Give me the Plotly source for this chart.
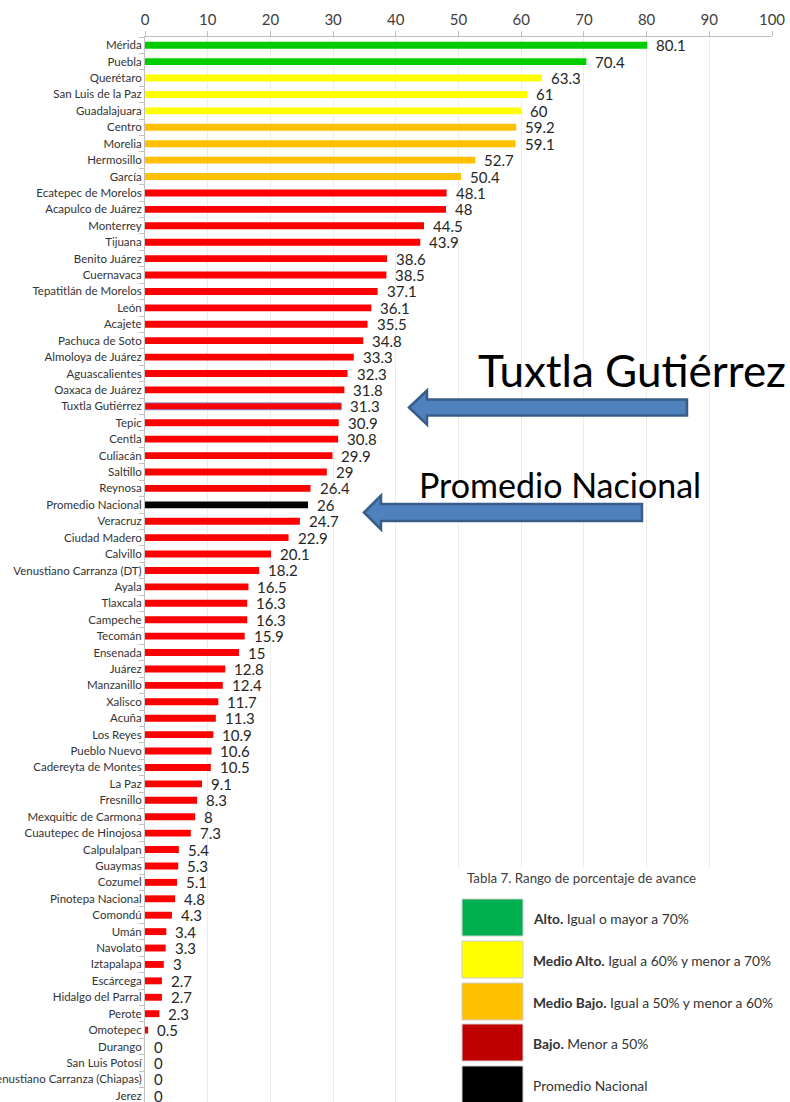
import plotly.graph_objects as go

municipios = [
    "Mérida", "Puebla", "Querétaro", "San Luis de la Paz", "Guadalajuara",
    "Centro", "Morelia", "Hermosillo", "García", "Ecatepec de Morelos",
    "Acapulco de Juárez", "Monterrey", "Tijuana", "Benito Juárez", "Cuernavaca",
    "Tepatitlán de Morelos", "León", "Acajete", "Pachuca de Soto", "Almoloya de Juárez",
    "Aguascalientes", "Oaxaca de Juárez", "Tuxtla Gutiérrez", "Tepic", "Centla",
    "Culiacán", "Saltillo", "Reynosa", "Promedio Nacional", "Veracruz",
    "Ciudad Madero", "Calvillo", "Venustiano Carranza (DT)", "Ayala", "Tlaxcala",
    "Campeche", "Tecomán", "Ensenada", "Juárez", "Manzanillo",
    "Xalisco", "Acuña", "Los Reyes", "Pueblo Nuevo", "Cadereyta de Montes",
    "La Paz", "Fresnillo", "Mexquitic de Carmona", "Cuautepec de Hinojosa", "Calpulalpan",
    "Guaymas", "Cozumel", "Pinotepa Nacional", "Comondú", "Umán",
    "Navolato", "Iztapalapa", "Escárcega", "Hidalgo del Parral", "Perote",
    "Omotepec", "Durango", "San Luis Potosí", "Venustiano Carranza (Chiapas)", "Jerez",
]
avance = [
    80.1, 70.4, 63.3, 61, 60,
    59.2, 59.1, 52.7, 50.4, 48.1,
    48, 44.5, 43.9, 38.6, 38.5,
    37.1, 36.1, 35.5, 34.8, 33.3,
    32.3, 31.8, 31.3, 30.9, 30.8,
    29.9, 29, 26.4, 26, 24.7,
    22.9, 20.1, 18.2, 16.5, 16.3,
    16.3, 15.9, 15, 12.8, 12.4,
    11.7, 11.3, 10.9, 10.6, 10.5,
    9.1, 8.3, 8, 7.3, 5.4,
    5.3, 5.1, 4.8, 4.3, 3.4,
    3.3, 3, 2.7, 2.7, 2.3,
    0.5, 0, 0, 0, 0,
]
x_ticks = [0, 10, 20, 30, 40, 50, 60, 70, 80, 90, 100]

legend_title = "Tabla 7. Rango de porcentaje de avance"
legend_labels = [
    ("Alto.", "Igual o mayor a 70%"),
    ("Medio Alto.", "Igual a 60% y menor a 70%"),
    ("Medio Bajo.", "Igual a 50% y menor a 60%"),
    ("Bajo.", "Menor a 50%"),
    ("", "Promedio Nacional"),
]
legend_colors = ["#00B050", "#FFFF00", "#FFC000", "#C00000", "#000000"]

promedio = "Promedio Nacional"
destacado = "Tuxtla Gutiérrez"


def bar_color(name, v):
    if name == promedio:
        return "#000000"
    if v >= 70:
        return "#00CC00"
    if v >= 60:
        return "#FFFF00"
    if v >= 50:
        return "#FFC000"
    return "#FF0000"


colors = [bar_color(n, v) for n, v in zip(municipios, avance)]
line_w = [1 if n == destacado else 0 for n in municipios]

W, H = 790, 1102
ML, MR, MT, MB = 145, 18, 37, 0
PW, PH = W - ML - MR, H - MT - MB


def px(xp):
    return (xp - ML) / PW


def py(yp):
    return 1 - (yp - MT) / PH


FONT = "Lato, 'Open Sans', sans-serif"

fig = go.Figure()
fig.add_trace(go.Bar(
    x=avance, y=municipios, orientation="h",
    marker=dict(color=colors, line=dict(color="#8080c0", width=line_w)),
    width=0.42, hoverinfo="x+y",
))

annotations = []
for n, v in zip(municipios, avance):
    annotations.append(dict(
        x=v, y=n, xref="x", yref="y", text=f"{v:g}", showarrow=False,
        xanchor="left", yanchor="middle", xshift=7,
        font=dict(size=15, color="#262626", family=FONT),
    ))

# big callout texts
annotations.append(dict(
    x=px(476), y=py(370), xref="paper", yref="paper", text="Tuxtla Gutiérrez",
    showarrow=False, xanchor="left", yanchor="middle",
    font=dict(size=44, color="#000000", family=FONT),
))
annotations.append(dict(
    x=px(417), y=py(484), xref="paper", yref="paper", text="Promedio Nacional",
    showarrow=False, xanchor="left", yanchor="middle",
    font=dict(size=34, color="#000000", family=FONT),
))

shapes = []


def block_arrow(tip_x, yc, head_x, end_x, head_h, shaft_h):
    pts = [
        (tip_x, yc), (head_x, yc - head_h / 2), (head_x, yc - shaft_h / 2),
        (end_x, yc - shaft_h / 2), (end_x, yc + shaft_h / 2),
        (head_x, yc + shaft_h / 2), (head_x, yc + head_h / 2),
    ]
    path = "M " + " L ".join(f"{px(a):.5f},{py(b):.5f}" for a, b in pts) + " Z"
    return dict(type="path", path=path, xref="paper", yref="paper",
                fillcolor="#4F81BD", line=dict(color="#385D8A", width=2.5),
                layer="above")


shapes.append(block_arrow(409, 407.5, 427, 687, 34, 16))
shapes.append(block_arrow(364, 512.5, 381, 642, 34, 17))

# legend table (image-like block)
shapes.append(dict(type="rect", xref="paper", yref="paper",
                   x0=px(455), x1=px(790), y0=py(1102), y1=py(868),
                   fillcolor="white", line=dict(width=0), layer="above"))
annotations.append(dict(
    x=px(465), y=py(878), xref="paper", yref="paper", text=legend_title,
    showarrow=False, xanchor="left", yanchor="middle",
    font=dict(size=13.3, color="#404040", family=FONT),
))
sw_tops = [899, 941, 983, 1024, 1066]
for i, ((b, t), c) in enumerate(zip(legend_labels, legend_colors)):
    y0 = sw_tops[i]
    shapes.append(dict(type="rect", xref="paper", yref="paper",
                       x0=px(462), x1=px(523), y0=py(y0 + 37), y1=py(y0),
                       fillcolor=c, line=dict(color="#d0d0d0", width=1),
                       layer="above"))
    txt = (f"<b>{b}</b> {t}" if b else t)
    annotations.append(dict(
        x=px(531), y=py(y0 + 19), xref="paper", yref="paper", text=txt,
        showarrow=False, xanchor="left", yanchor="middle",
        font=dict(size=13.8, color="#333333", family=FONT),
    ))

fig.update_layout(
    width=W, height=H,
    margin=dict(l=ML, r=MR, t=MT, b=MB, pad=0, autoexpand=False),
    paper_bgcolor="white", plot_bgcolor="white",
    showlegend=False,
    font=dict(family=FONT, color="#333333"),
    annotations=annotations, shapes=shapes,
    xaxis=dict(
        side="top", range=[0, 100], tickvals=x_ticks, automargin=False,
        showgrid=True, gridcolor="#ececec", gridwidth=1,
        showline=True, linecolor="#c0c0c0", linewidth=1,
        ticks="outside", ticklen=5, tickcolor="#c0c0c0",
        tickfont=dict(size=15, color="#404040", family=FONT),
        zeroline=False, fixedrange=True,
    ),
    yaxis=dict(
        categoryorder="array", categoryarray=municipios, automargin=False,
        range=[64.38, -0.5],
        showline=True, linecolor="#c0c0c0", linewidth=1,
        ticks="outside", ticklen=5, tickcolor="#c0c0c0", tickson="boundaries",
        tickfont=dict(size=11.5, color="#333333", family=FONT),
        showgrid=False, zeroline=False, fixedrange=True,
    ),
)

fig.write_html(
    "out.html",
    config={"displayModeBar": False},
    post_script="document.body.style.margin='0';document.body.style.overflow='hidden';",
)
